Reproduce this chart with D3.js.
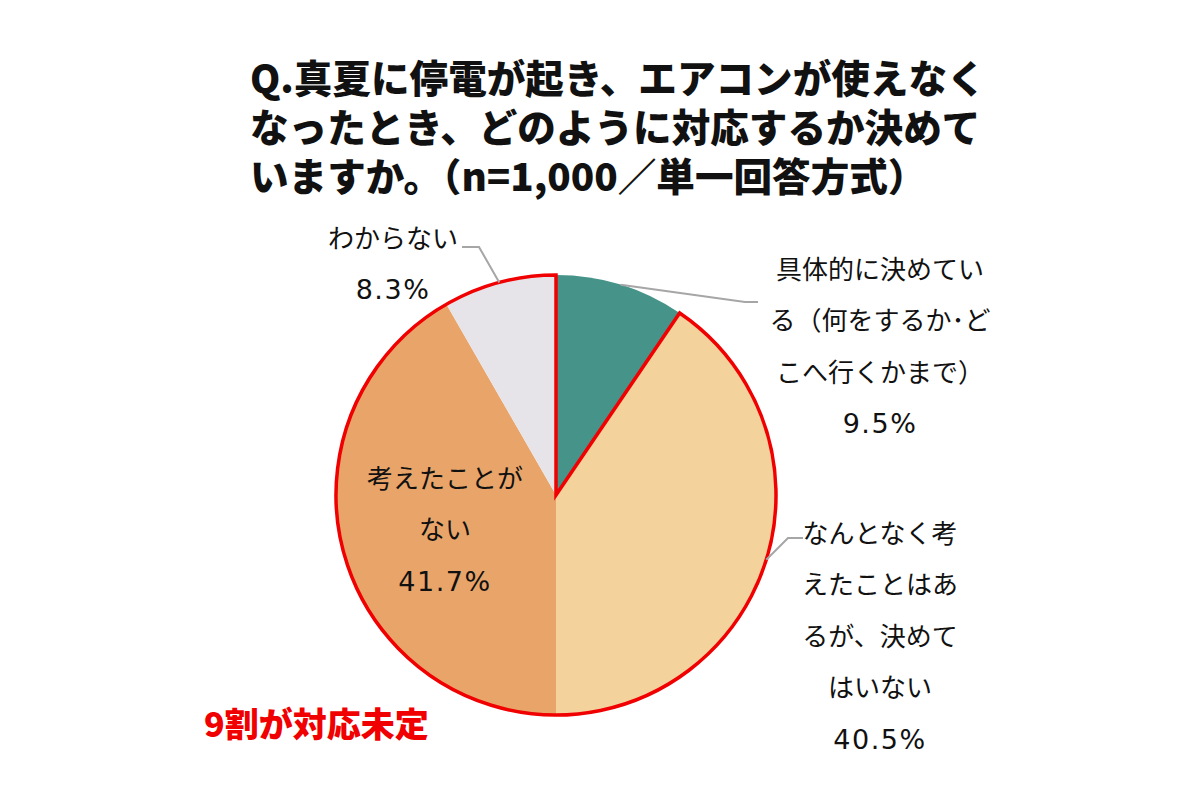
<!DOCTYPE html>
<html><head><meta charset="utf-8">
<script src="https://cdn.jsdelivr.net/npm/d3@7"></script>
<style>
html,body{margin:0;padding:0;background:#fff;}
svg{display:block;}
</style>
</head><body>
<svg id="chart" width="1200" height="800"></svg>
<script>
// ---- data ----
const categories = ["具体的に決めている（何をするか・どこへ行くかまで）", "なんとなく考えたことはあるが、決めてはいない", "考えたことがない", "わからない"];
const values = [9.5, 40.5, 41.7, 8.3];
const labelLines = [
  ["具体的に決めてい", "る（何をするか･ど", "こへ行くかまで）"],
  ["なんとなく考", "えたことはあ", "るが、決めて", "はいない"],
  ["考えたことが", "ない"],
  ["わからない"]
];
const titleLines = ["Q.真夏に停電が起き、エアコンが使えなく", "なったとき、どのように対応するか決めて", "いますか。（n=1,000／単一回答方式）"];
const noteText = "9割が対応未定";

// ---- layout / style ----
const colors = ["#46938A", "#F4D29B", "#E9A569", "#E7E4E9"];
const cx = 556, cy = 495, R = 220;
const lineH = 51.5;
const labelCfg = [
  {x: 880, y: 267, leader: [[745, 302], [758, 302]]},
  {x: 880, y: 531, leader: [[788, 538], [803, 538]]},
  {x: 445, y: 476, leader: null},
  {x: 393, y: 236, leader: [[479, 247], [462, 247]]}
];

const svg = d3.select("#chart");
const jp = "'Noto Sans CJK JP','Noto Sans',sans-serif";
const num = "'DejaVu Sans','Noto Sans',sans-serif";

// title (one text block, one tspan per line)
const title = svg.append("text")
  .style("font-family", jp).style("font-weight", 900).style("font-size", "38.6px")
  .attr("fill", "#111");
title.selectAll("tspan").data(titleLines).join("tspan")
  .attr("x", 250).attr("y", (d, i) => 76 + i * 49)
  .attr("dominant-baseline", "central")
  .text(d => d);

const pie = d3.pie().sort(null).value(d => d)(values);
const arc = d3.arc().innerRadius(0).outerRadius(R);
const g = svg.append("g").attr("transform", `translate(${cx},${cy})`);

g.selectAll("path.slice").data(pie).join("path")
  .attr("class", "slice").attr("d", arc)
  .attr("fill", (d, i) => colors[i]);

// red outline around all slices except the first
const redArc = d3.arc().innerRadius(0).outerRadius(R)
  ({startAngle: pie[0].endAngle, endAngle: pie[pie.length - 1].endAngle});
g.append("path").attr("d", redArc).attr("fill", "none")
  .attr("stroke", "#F00000").attr("stroke-width", 3.5).attr("stroke-linejoin", "miter");

// leader lines
pie.forEach((d, i) => {
  const cfg = labelCfg[i];
  if (!cfg.leader) return;
  const a = (d.startAngle + d.endAngle) / 2;
  const p0 = [cx + R * Math.sin(a), cy - R * Math.cos(a)];
  svg.append("path")
    .attr("d", d3.line()([p0, ...cfg.leader]))
    .attr("fill", "none").attr("stroke", "#A6A6A6").attr("stroke-width", 2);
});

// labels
pie.forEach((d, i) => {
  const cfg = labelCfg[i];
  const lines = labelLines[i];
  const t = svg.append("g");
  lines.forEach((ln, j) => {
    t.append("text").attr("x", cfg.x).attr("y", cfg.y + j * lineH)
      .attr("text-anchor", "middle").attr("dominant-baseline", "central")
      .style("font-family", jp).style("font-size", "26px").attr("fill", "#111")
      .text(ln);
  });
  t.append("text").attr("x", cfg.x).attr("y", cfg.y + lines.length * lineH + 2)
    .attr("text-anchor", "middle").attr("dominant-baseline", "central")
    .style("font-family", num).style("font-size", "27px").style("letter-spacing", "1.5px")
    .attr("fill", "#111")
    .text(d3.format(".1f")(d.data) + "%");
});

// note
svg.append("text").attr("x", 204).attr("y", 722).attr("dominant-baseline", "central")
  .style("font-family", jp).style("font-weight", 900).style("font-size", "34px")
  .attr("fill", "#F00000").text(noteText);
</script>
</body></html>
